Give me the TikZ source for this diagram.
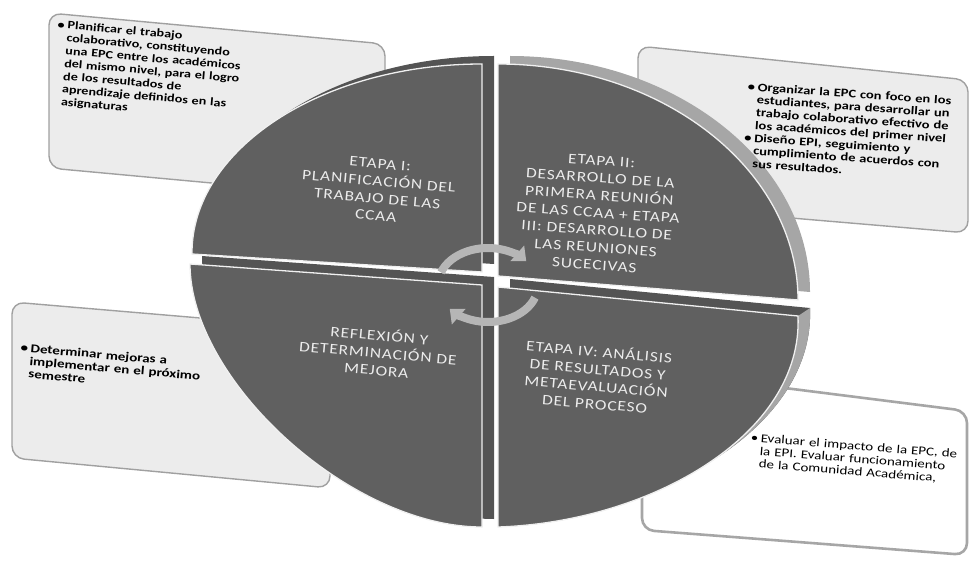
\documentclass[tikz,border=0pt]{standalone}
\usepackage{fontspec}
\setmainfont{Carlito}
\newfontfamily\notefont[FakeStretch=1.25]{Carlito}
\newfontfamily\stagefont[FakeStretch=1.2,LetterSpace=6]{Carlito}
\usetikzlibrary{arrows.meta}
\definecolor{slate}{RGB}{96,96,96}
\definecolor{slatedark}{RGB}{84,84,84}
\definecolor{rimlight}{RGB}{166,166,166}
\definecolor{paper}{RGB}{236,236,236}
\definecolor{edge}{RGB}{160,160,160}
\definecolor{chalk}{RGB}{236,236,236}
\definecolor{turngray}{RGB}{182,182,182}
\tikzset{
  note/.style={draw=edge,line width=1.4pt,fill=#1,rounded corners=12pt},
  note/.default=paper,
  notetext/.style={anchor=north west,inner sep=0pt,align=left,text width=250pt,
    font=\notefont\fontsize{#1}{12.8}\selectfont},
  notetext/.default=11,
  heavy/.style={execute at begin node=\bfseries},
  rim/.style={fill=#1},
  rim/.default=slatedark,
  slice/.style={fill=slate,draw=white!94!black,line width=1.3pt},
  stage/.style={text=chalk,align=center,inner sep=0pt,
    font=\stagefont\fontsize{14.5}{17.4}\selectfont,rotate=#1},
  stage/.default=-5,
  turn/.style={draw=turngray,line width=8pt,-{Triangle[length=12pt,width=20pt]}},
}
\newcommand\bitem[1]{\hangindent=10pt\hangafter=1\noindent\makebox[10pt][l]{\textbullet}#1\par}

\begin{document}
\begin{tikzpicture}[x=1pt,y=-1pt]
  \useasboundingbox (0,0) rectangle (971,561);
  % note cards behind the disc
  \draw[note] (49,13) -- (385,44) -- (385,199) -- (49,168) -- cycle;
  \draw[note] (638,46) -- (968,80) -- (968,233) -- (638,205) -- cycle;
  \draw[note] (12,302) -- (330,329) -- (330,488) -- (12,458) -- cycle;
  \draw[note=white,draw=rimlight,line width=2.6pt] (642,370) -- (967,411) -- (967,555) -- (642,530) -- cycle;
  % disc: thickness first
  \begin{scope}[shift={(12,-8)}]
    \fill[rim] (190,264) -- (482,285) -- (482,527) .. controls (350,527) and (190,380) .. (190,264) -- cycle;
    \fill[rim] (498,287) -- (798,316) .. controls (803,435) and (650,522) .. (498,527) -- cycle;
    \fill[rim] (482,64) .. controls (321,64) and (191,150) .. (192,254) -- (482,272) -- cycle;
    \fill[rim=rimlight] (498,64) .. controls (663,64) and (798,170) .. (798,300) -- (498,276) -- cycle;
  \end{scope}
  \fill[rimlight] (810,308) .. controls (815,427) and (662,514) .. (510,519) -- (498,527)
    .. controls (650,522) and (803,435) .. (798,316) -- cycle;
  % disc: faces
  \draw[slice] (482,64) .. controls (321,64) and (191,150) .. (192,254) -- (482,272) -- cycle;
  \draw[slice] (498,64) .. controls (663,64) and (798,170) .. (798,300) -- (498,276) -- cycle;
  \draw[slice] (190,264) -- (482,285) -- (482,527) .. controls (350,527) and (190,380) .. (190,264) -- cycle;
  \draw[slice] (498,287) -- (798,316) .. controls (803,435) and (650,522) .. (498,527) -- cycle;
  % cycle arrows
  \draw[turn] (441,272.35) arc[start angle=160,end angle=40,x radius=50pt,y radius=37pt];
  \draw[turn] (535,297.65) arc[start angle=-20,end angle=-140,x radius=50pt,y radius=37pt];
  % stage labels
  \node[stage] (plan) at (378,190) {ETAPA I:\\PLANIFICACIÓN DEL\\TRABAJO DE LAS\\CCAA};
  \node[stage=-4] (meet) at (598,213) {ETAPA II:\\DESARROLLO DE LA\\PRIMERA REUNIÓN\\DE LAS CCAA + ETAPA\\III: DESARROLLO DE\\LAS REUNIONES\\SUCECIVAS};
  \node[stage] (reflect) at (378,352) {REFLEXIÓN Y\\DETERMINACIÓN DE\\MEJORA};
  \node[stage] (review) at (597,377) {ETAPA IV: ANÁLISIS\\DE RESULTADOS Y\\METAEVALUACIÓN\\DEL PROCESO};
  % card texts
  \node[notetext=11.3,heavy,rotate=-5] (planNote) at (58,20) {\bitem{Planificar el trabajo\newline colaborativo, constituyendo\newline una EPC entre los académicos\newline del mismo nivel, para el logro\newline de los resultados de\newline aprendizaje definidos en las\newline asignaturas}};
  \node[notetext=11.6,heavy,rotate=-4] (meetNote) at (748,82) {\bitem{Organizar la EPC con foco en los\newline estudiantes, para desarrollar un\newline trabajo colaborativo efectivo de\newline los académicos del primer nivel}\bitem{Diseño EPI, seguimiento y\newline cumplimiento de acuerdos con\newline sus resultados.}};
  \node[notetext=12,heavy,rotate=-5] (reflectNote) at (21,343) {\bitem{Determinar mejoras a\newline implementar en el próximo\newline semestre}};
  \node[notetext=12,rotate=-4.5] (reviewNote) at (751,433) {\bitem{Evaluar el impacto de la EPC, de\newline la EPI. Evaluar funcionamiento\newline de la Comunidad Académica,}};
\end{tikzpicture}
\end{document}
